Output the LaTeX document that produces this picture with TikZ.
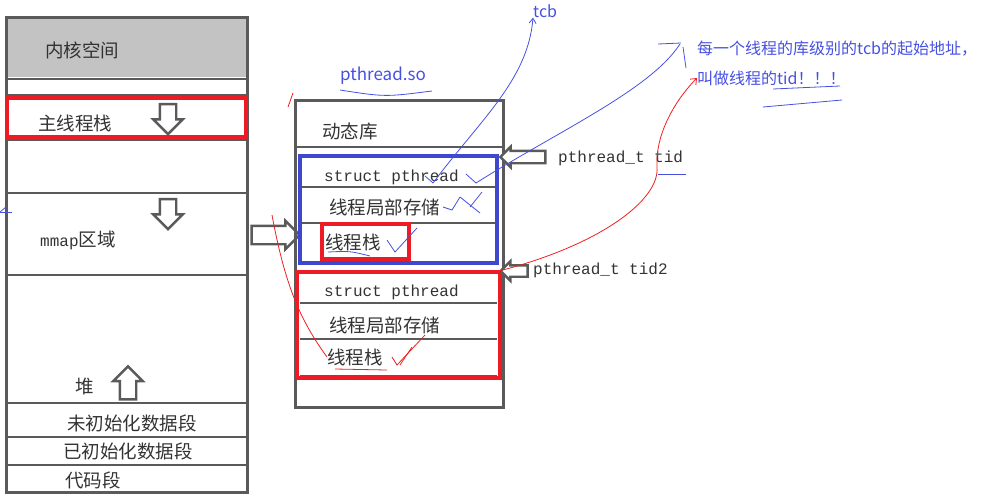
\documentclass[tikz,border=0pt]{standalone}
\usepackage{fontspec}
\setmainfont{Noto Sans CJK SC}
\setmonofont{Liberation Mono}
\usetikzlibrary{arrows.meta,positioning,shapes.arrows}
\definecolor{boxblue}{RGB}{63,72,204}
\definecolor{inkblue}{RGB}{70,80,225}
\definecolor{boxred}{RGB}{237,28,36}
\definecolor{inkred}{RGB}{240,30,30}
\definecolor{kernelgray}{RGB}{195,195,195}
\definecolor{pencil}{RGB}{90,90,90}
\tikzset{
  seg/.style={draw=pencil, line width=3pt},            % outer boxes
  sepline/.style={draw=pencil, line width=2.5pt},      % section lines
  lbl/.style={font=\fontsize{18.5}{21}\selectfont, text=black!80, inner sep=0pt, anchor=west},
  code/.style={font=\ttfamily\fontsize{16}{18}\selectfont, text=black!80, inner sep=0pt, anchor=west},
  note/.style={font=\fontsize{16}{20}\selectfont, text=inkblue, inner sep=0pt, anchor=west},
  redbox/.style={draw=boxred, line width=4pt},
  bluebox/.style={draw=boxblue, line width=4pt},
  growArrow/.style={single arrow, draw=pencil, line width=2.4pt, fill=white,
    inner sep=7pt, minimum height=30pt, single arrow head extend=6.5pt},
  bluepen/.style={draw=inkblue, line width=0.8pt},
  redpen/.style={draw=inkred, line width=0.8pt}
}
\begin{document}
\begin{tikzpicture}[x=1pt, y=-1pt]
  \useasboundingbox (0,0) rectangle (981,501);
  % process address space
  \fill[kernelgray] (6,17) rectangle (247,77);
  \draw[seg] (6,17) rectangle (247,492);
  \foreach \y in {79,95,140,193,275,403,437,465}
    \draw[sepline] (6,\y) -- (247,\y);
  \draw[redbox] (7,98) rectangle (246,137);
  \node[lbl] (kernel) at (45,50) {内核空间};
  \node[lbl] (mainstack) at (38,123) {主线程栈};
  \node[lbl] (mmap) at (40,240) {{\ttfamily\fontsize{16}{18}\selectfont mmap}区域};
  \node[lbl] (heap) at (75,387) {堆};
  \node[lbl] (bss) at (67,423) {未初始化数据段};
  \node[lbl] (data) at (63,451) {已初始化数据段};
  \node[lbl] (code) at (65,480) {代码段};
  \node[growArrow, shape border rotate=270] (stackgrow) at (168,115) {};
  \node[growArrow, shape border rotate=270] (mmapgrow) at (168,210) {};
  \node[growArrow, shape border rotate=90, minimum height=33pt] (heapgrow) at (128,387) {};
  \node[growArrow, minimum height=48pt, inner sep=8pt, single arrow head extend=5pt] (maparrow) at (271,235) {};

  % shared library area
  \draw[seg] (295,100) rectangle (503,407);
  \draw[sepline] (295,147) -- (503,147);
  \node[lbl] (dynlib) at (322,131) {动态库};
  \node[note, font=\fontsize{17}{20}\selectfont] (soname) at (340,76) {pthread.so};
  \draw[bluepen] (340,90) .. controls (385,97) .. (432,91);

  % first thread
  \draw[sepline] (300,187) -- (497,187);
  \draw[sepline] (300,223) -- (497,223);
  \node[code] (tcbA) at (324,177) {struct pthread};
  \node[lbl] (tlsA) at (329,207) {线程局部存储};
  \node[lbl] (stackA) at (325,242) {线程栈};
  \draw[redbox] (322,224) rectangle (409,259);
  \draw[bluebox] (300,156) rectangle (497,263);

  % second thread
  \draw[sepline] (300,303) -- (497,303);
  \draw[sepline] (300,339) -- (497,339);
  \draw[sepline] (300,376) -- (497,376);
  \node[code] (tcbB) at (324,292) {struct pthread};
  \node[lbl] (tlsB) at (329,325) {线程局部存储};
  \node[lbl] (stackB) at (327,357) {线程栈};
  \draw[redbox] (297,272) rectangle (500,378);

  % tid pointers
  \node[growArrow, shape border rotate=180, minimum height=45pt, inner sep=5pt,
    single arrow head extend=4pt] (tidptr) at (526,157) {};
  \node[code] (tid) at (558,158) {pthread\_t tid};
  \node[growArrow, shape border rotate=180, minimum height=27pt, inner sep=4.5pt,
    single arrow head extend=4pt] (tidptrB) at (517,271) {};
  \node[code] (tidB) at (533,270) {pthread\_t tid2};

  % notes
  \node[note] (tcb) at (533,11) {tcb};
  \node[note] (noteA) at (697,49) {每一个线程的库级别的tcb的起始地址，};
  \node[note] (noteB) at (697,78) {叫做线程的tid！！！};
  \coordinate (tcbtick) at (433,183);
  \coordinate (tidtick) at (476,183);
  \draw[bluepen] (425,176) -- (tcbtick);
  \draw[bluepen, -{Straight Barb[length=5pt,width=7pt]}] (tcbtick)
    .. controls (480,120) and (528,80) .. (tcb.south west);
  \draw[bluepen] (466,174) -- (tidtick);
  \draw[bluepen] (tidtick) .. controls (560,130) and (650,90) .. (680,44);
  \draw[bluepen] (658,44) -- (681,43);
  \draw[bluepen] (683,47) -- (686,68);
  \draw[bluepen] (658,174) -- (686,174);
  \draw[bluepen] (773,89) -- (840,86);
  \draw[bluepen] (763,107) -- (842,100);
  % ticks
  \draw[bluepen] (443,207) -- (452,210) -- (460,197);
  \draw[bluepen] (460,197) -- (480,213);
  \draw[bluepen] (470,207) -- (482,192);
  \draw[bluepen] (387,240) -- (395,252) -- (417,228);
  \draw[bluepen] (328,252) .. controls (350,251) .. (370,256);
  \draw[bluepen] (0,212) -- (12,212);
  \draw[bluepen] (0,212) -- (6,207);
  \draw[redpen] (392,357) -- (397,365) -- (425,335);
  \draw[redpen] (400,365) -- (412,347);
  \draw[redpen] (335,369) -- (387,370);
  \draw[redpen] (288,107) -- (293,93);
  % red links
  \coordinate (mapfoot) at (272,215);
  \draw[redpen] (mapfoot) .. controls (285,285) and (300,320) .. (stackB.west);
  \draw[redpen, -{Straight Barb[length=5pt,width=8pt]}] (tidptrB.tip)
    .. controls (600,245) and (660,200) .. (657,167)
    .. controls (655,130) and (680,95) .. (noteB.west);
\end{tikzpicture}
\end{document}
